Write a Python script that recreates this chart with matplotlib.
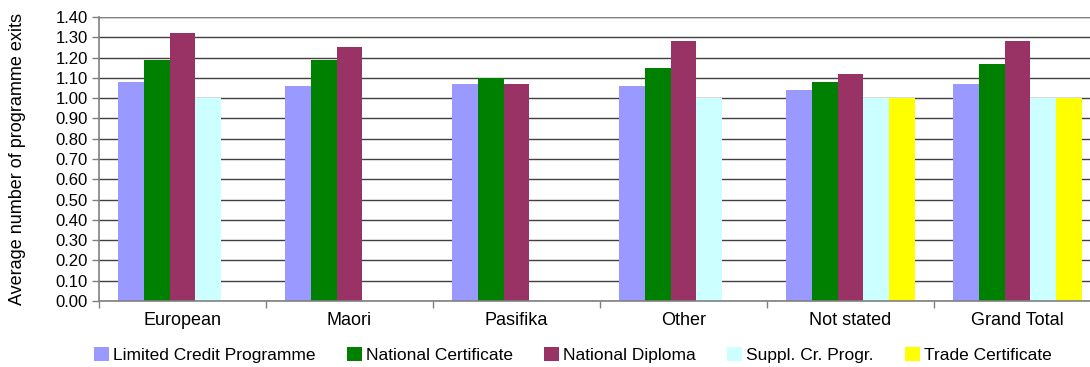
import numpy as np
import matplotlib.pyplot as plt

plt.rcParams['font.family'] = ['Liberation Sans', 'DejaVu Sans']

categories = ["European", "Maori", "Pasifika", "Other", "Not stated", "Grand Total"]
series_names = ["Limited Credit Programme", "National Certificate", "National Diploma",
                "Suppl. Cr. Progr.", "Trade Certificate"]
limited_credit = [1.08, 1.06, 1.07, 1.06, 1.04, 1.07]
national_cert = [1.19, 1.19, 1.10, 1.15, 1.08, 1.17]
national_dipl = [1.32, 1.25, 1.07, 1.28, 1.12, 1.28]
suppl_cr = [1.00, np.nan, np.nan, 1.00, 1.00, 1.00]
trade_cert = [np.nan, np.nan, np.nan, np.nan, 1.00, 1.00]

series = [limited_credit, national_cert, national_dipl, suppl_cr, trade_cert]
colors = ["#9999FF", "#008000", "#993366", "#CCFFFF", "#FFFF00"]

fig = plt.figure(figsize=(10.9, 3.67), dpi=100)
ax = fig.add_axes([99 / 1090, 1 - 301 / 367, 1002 / 1090, 284 / 367])

x = np.arange(len(categories))
w = 0.155
for k, (vals, name, col) in enumerate(zip(series, series_names, colors)):
    ax.bar(x + (k - 2) * w, vals, width=w, color=col, label=name, zorder=2)

ax.set_xlim(-0.5, len(categories) - 0.5)
ax.set_ylim(0, 1.40)
ticks = np.arange(0, 1.41, 0.10)
ax.set_yticks(ticks)
ax.set_yticklabels([f"{v:.2f}" for v in ticks], fontsize=12)
ax.yaxis.grid(True, color="#404040", linewidth=1.0, zorder=0)
ax.set_axisbelow(True)

# category ticks sit between groups
ax.set_xticks(np.arange(-0.5, len(categories) + 0.5, 1.0))
ax.set_xticklabels([])
ax.set_xticks(x, minor=True)
ax.set_xticklabels(categories, minor=True, fontsize=13)
ax.tick_params(axis="x", which="minor", length=0, pad=8)
ax.tick_params(axis="x", which="major", length=5, color="#808080", width=1)
ax.tick_params(axis="y", length=5, color="#808080", width=1, pad=3)

for side in ["top", "right"]:
    ax.spines[side].set_visible(False)
for side in ["left", "bottom"]:
    ax.spines[side].set_color("#808080")
    ax.spines[side].set_linewidth(1.2)
ax.axhline(1.40, color="#808080", linewidth=1.6, zorder=1)

ax.set_ylabel("Average number of programme exits", fontsize=13)
ax.yaxis.set_label_coords(-73 / 1002, 0.5)

fig.legend(loc="center left", bbox_to_anchor=(94 / 1090, 1 - 355 / 367), ncol=5, frameon=False,
           fontsize=12.5, handlelength=0.85, handleheight=0.85, handletextpad=0.25,
           columnspacing=1.8, borderaxespad=0.0, borderpad=0.0)

fig.savefig("out.png", dpi=100, facecolor="white")
